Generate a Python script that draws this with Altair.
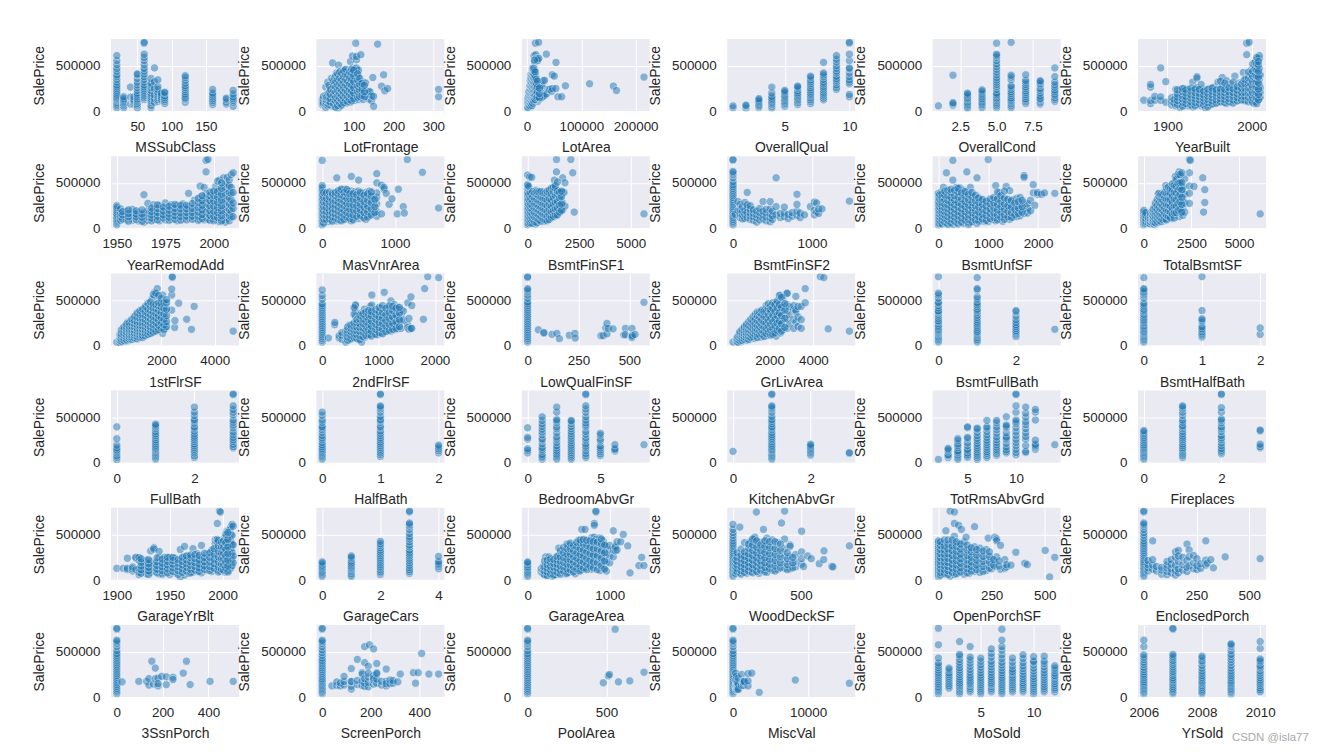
import altair as alt
import pandas as pd

# Every panel: x value -> SalePrice values (in thousands).
MSSubClass = {20:[40,60,80,100,120,130,140,150,160,175,190,210,230,250,270,290,320,350,380,400,440,470,510,555,610],
30:[40,60,80,95,110,125,140,160],40:[79,155,265],45:[76,95,110,120,135,160],
50:[38,70,90,110,125,140,160,180,200,230,260,290,320,360,400,410],
60:[130,150,170,190,210,230,250,270,290,320,350,380,410,440,470,510,555,590,625,745,755],
70:[40,65,100,120,140,160,180,200,230,260,290,310,360],75:[100,140,180,250,325,475],
80:[110,130,150,170,190,210,240,270,345],85:[125,140,160,180,200],90:[85,110,130,150,170,200,210],
120:[100,130,140,150,170,190,215,240,260,280,310,340,370,390],160:[75,100,120,140,160,180,200,240],
180:[80,100,130,145],190:[55,100,120,140,160,190,230]}
LotFrontage = {21:[75,95,130],24:[85,100,140,165],30:[40,80,110,140,175,265],35:[60,125,155,190,320],40:[90,130,170,215,260],
44:[60,110,150,240,360],47:[130,190,280,340,530],52:[50,100,160,205,255,300,365],57:[70,120,180,235,290,345,420],
62:[35,85,140,200,260,310,380,505],67:[60,115,165,220,275,330,400,440],72:[85,135,190,245,300,355,430],77:[110,160,215,270,325,385,450],
82:[90,145,200,250,310,370,425],87:[125,175,235,285,345,410],92:[100,155,215,265,330,395,545],97:[130,190,245,300,360,435,475,605],
102:[120,170,225,280,345,415,465],105:[745],107:[140,200,260,320,390,445,475,565,600],112:[130,185,250,305,380,450],118:[150,215,285,620],
124:[130,190,260,320],130:[160,225,310],138:[135,185,215],141:[215],145:[115,170],148:[370],150:[55,165],160:[735],170:[275],175:[400],178:[225],185:[250],313:[160,240],
32:[95,125,155],38:[75,110,145,200,285],42:[100,140,185,240],50:[80,130,180,230,280,330],55:[45,110,150,215,270,325,390],60:[65,120,170,230,285,345,410],65:[90,145,195,250,305,365,430],70:[70,125,175,230,290,345,415],75:[95,150,205,260,315,375,440],80:[120,175,230,285,345,400,460],85:[105,160,215,275,330,395],90:[130,185,240,300,365,430],95:[115,170,225,285,350,415,460],100:[140,200,260,325,390,450],110:[155,215,275,340,410],115:[165,230,295,360],121:[175,240,305],127:[160,215,285]}
LotArea = {1300:[40,80,125],3000:[60,90,130,170,200],5000:[50,85,115,150,185,230,270],7000:[70,100,135,170,205,250,295,385,400],
8500:[55,95,130,165,200,240,280,330,370,410],10000:[75,110,145,180,220,265,310,355,395,450,470],11500:[90,130,170,210,255,300,345,390,440,475],
13000:[105,150,195,240,285,330,375,420,465,610],14500:[120,165,215,260,305,350,400,460,540],15623:[745],16500:[140,190,240,285,335,385,620],17000:[575],18800:[170,225,270,315,570],
20000:[110,200,255,300,555],21535:[755],22000:[135,180,240,285,580],24000:[160,210,265,310],26000:[145,230,275],28000:[155,200,280],30000:[165,335],
32500:[175,340],35760:[625],36000:[190],39000:[240],42000:[240],45600:[220],46589:[400],47007:[250],50271:[385],53227:[250],53504:[535],
57200:[160],63887:[160],70761:[280],115149:[302],159000:[277],164660:[228],215245:[375],
2000:[45,100,150],4000:[70,105,140,175,215],6000:[60,95,125,160,195,240,285,340],7800:[85,120,155,190,230,270,320,365],9200:[65,105,145,185,225,265,305,345,390],10800:[90,130,165,205,245,285,330,375,420,460],12200:[115,155,190,230,275,320,365,410,455,470],13800:[130,175,220,265,310,355,400,445,560],15500:[130,180,230,275,320,370,430],17500:[150,205,255,300,350],19500:[160,215,265,330],23000:[150,195,255]}
OverallQual = {1:[39,61],2:[35,60,69],3:[40,55,65,80,95,110,125,140],4:[35,55,75,85,100,115,130,145,165,200,265],
5:[55,75,90,105,120,135,150,165,180,200,215,230],6:[75,95,115,130,145,160,175,190,205,225,250,265,277],
7:[85,110,130,150,170,185,200,220,240,260,285,305,325,345,370,385],8:[125,145,170,190,210,235,255,275,300,320,350,380,400,420,535],
9:[240,260,290,320,340,360,385,420,440,470,500,540,570,610],10:[160,185,300,320,345,380,420,465,475,555,625,745,755]}
OverallCond = {1:[61],2:[67,85,95,395],3:[35,45,60,75,90,105,125,140,150,170,185,200],4:[40,60,75,90,105,125,140,160,180,200,220,235],
5:[40,60,80,100,120,135,150,170,185,200,240,270,295,320,345,370,400,430,460,490,520,555,590,610,625,745],
6:[40,60,85,105,120,135,150,175,195,215,240,265,280,345,375,395,755],7:[85,105,125,140,165,185,205,225,250,270,295,320,340,400],
8:[80,100,125,135,145,170,200,230,250,290,305,325,335],9:[110,130,150,175,190,215,235,265,290,320,380,475]}
YearBuilt = {1872:[122],1880:[85,117,265,295],1885:[122,165],1892:[120,160,475],1898:[100,325],1905:[70,110,150],1910:[60,105,140,170,240],
1915:[45,90,125,160,205,235],1920:[70,110,145,180,220,250],1925:[60,95,130,165,200,240],1930:[50,85,120,155,190,225,320],1935:[75,110,145,180,215,260,380,365],
1940:[60,100,135,170,205,250,295],1945:[40,85,120,155,190,235],1950:[70,105,140,175,210,250],1955:[85,120,155,190,225,265],1960:[100,135,170,205,240,320],
1965:[110,145,180,215,250,275,370],1970:[85,120,155,190,225,270,335],1975:[100,135,170,205,240,300],1980:[110,145,180,215,255,385],1985:[120,155,190,225,260,310],
1990:[130,165,200,240,285,330,425],1994:[125,175,220,265,315,360,620,745],1997:[135,180,225,270,320,375,410,755],2000:[110,160,205,250,300,350,400,460],
2003:[85,140,190,240,290,340,395,450,510],2005:[130,175,225,275,330,385,440,490,555],2007:[115,165,215,265,320,375,430,480,570],2009:[140,190,240,295,350,400,465,580,610],2010:[155,210,260,395],
1908:[90,130],1912:[75,120,155,190,235],1918:[55,100,135,170,215,250],1922:[85,125,160,200,235],1928:[70,105,145,180,220,255],1933:[60,100,135,170,205,245],1938:[85,125,160,195,240],1943:[70,110,145,180,220],1948:[50,95,130,165,200,240],1953:[80,115,150,185,220,255],1958:[90,125,165,200,235],1963:[105,140,175,210,245,330],1968:[95,130,165,205,240,310],1973:[105,140,180,215,260],1978:[90,125,165,205,245,320],1983:[115,150,190,230,270],1988:[125,165,205,250,300],1992:[115,160,205,255,305,350],1996:[105,155,205,255,310,365,430],1999:[125,180,235,295,355,415],2001:[100,150,205,265,325,385,440,520],2004:[105,160,215,270,330,395,465,535],2006:[85,145,205,265,325,385,450,520,590],2008:[125,185,245,310,375,440,505,545]}
YearRemodAdd = {1950:[40,60,80,95,110,125,140,155,170,190,210,230,250],1952:[90,130,165,215],1955:[95,120,145,190],1958:[90,115,140,170,210],1961:[85,115,145,180],
1964:[70,110,140,175,370],1966:[90,125,160,200,275],1969:[100,130,165,205,260],1972:[85,120,155,195,250],1975:[95,130,170,215,280],1978:[105,140,180,225,260],
1981:[85,125,165,205,250],1984:[105,145,185,230,270],1987:[115,155,195,240,385],1990:[110,150,195,245,310],1993:[100,145,190,240,290,345,465],1995:[95,140,190,240,290,335,450],
1996:[120,175,225,280,330,380,745,620],1997:[100,155,210,265,320,755],1999:[115,170,225,280,335,390],2001:[105,160,215,270,330,390,460],2003:[75,130,185,240,300,360,430,530],
2005:[95,150,205,260,320,380,450,555],2006:[70,125,180,240,300,365,430,490],2007:[110,170,230,290,350,410,480,560],2008:[85,145,205,265,330,395,465,530],2009:[125,190,250,315,385,450,590],2010:[130,220,280,395,610],
1953:[105,150,185],1956:[80,130,165,205],1960:[100,130,160,195],1963:[80,125,160,205],1968:[85,115,150,185,225],1971:[95,135,175,220,260],1974:[115,150,190,235],1977:[90,125,160,200,245],1980:[100,140,180,220,265],1983:[90,130,170,215,255],1986:[95,135,175,215,255],1989:[100,135,175,220,275],1992:[90,135,180,230,285,330],1994:[110,155,205,255,305,360],1998:[90,145,195,250,305,360,400],2000:[85,135,190,245,300,360,410],2002:[120,175,230,285,345,405,520],2004:[85,140,195,250,310,375,440,500]}
MasVnrArea = {0:[40,60,80,100,120,140,160,180,200,220,240,260,280,300,320,340,360,380,400,420,445,470,745],
40:[90,130,170,215,260,310,375],80:[75,120,160,205,250,300,355],120:[90,135,180,225,275,325],160:[100,145,190,240,290,345],
200:[85,130,175,220,270,320,385,555],240:[105,150,195,245,295,350,400],280:[90,140,185,235,285,340,425],320:[110,160,210,260,310,365,430],
360:[100,150,200,250,300,360,405],400:[85,135,185,240,295,350,410,570],450:[120,170,225,280,340,400],500:[110,165,220,280,345,410,530],
550:[130,190,250,310,385],600:[100,155,215,275,350,395],650:[140,200,270,340,410],700:[165,225,300,350],750:[135,185,270,340,390,600,500],
816:[160,475],850:[430,450],880:[385],920:[265],960:[325],1031:[160],1047:[430],1115:[240],1129:[170],1170:[755],1378:[615],1600:[225],
20:[60,105,150,195,240,290,340,395],60:[100,140,185,230,280,330,390],100:[105,150,195,245,295,345,400],140:[80,125,170,215,260,310,365,385],180:[115,160,205,255,305,360,395],220:[100,145,190,235,285,335,375,415],260:[85,125,170,215,265,320,370,430],300:[100,150,200,250,300,350,395],340:[125,175,225,275,330,385,425],380:[110,160,215,270,325,380],425:[95,150,205,260,320,380],475:[135,195,250,310,370],525:[145,205,265,330,395],575:[115,175,235,295,365],625:[125,185,245,310,380],675:[150,215,285,355,400],725:[175,240,320]}
BsmtFinSF1 = {0:[40,60,80,100,120,140,160,180,200,220,240,260,280,300,320,340,360,380,400,440,470,480,585],
100:[75,110,150,190,240,290,340,400,565],200:[90,130,175,220,270,320,380,560],300:[70,115,160,205,255,305,365],400:[50,100,145,190,240,295,350,420],
500:[85,130,180,230,285,340,395],600:[105,155,205,260,315,375],700:[90,140,195,250,305,360,400],800:[80,125,180,235,295,350,405],
900:[105,160,215,275,335,400],1000:[115,170,230,290,350,410],1100:[110,165,225,290,355,425],1200:[120,175,240,305,375,445],1300:[130,190,255,320,390,460,530],
1400:[145,210,280,350,420,620,755],1500:[170,240,310,380],1600:[190,265,345,400],1700:[205,280,395,555],1767:[395],1810:[500,245],2096:[755],2188:[610],2260:[180],5644:[160],
50:[55,95,135,175,220,265,320,375,460],150:[60,100,140,180,225,270,325,385],250:[55,105,150,195,245,295,350,405],350:[75,125,170,220,270,325,385],450:[65,115,165,215,265,320,375,405],550:[95,145,195,245,300,355,400],650:[80,130,180,235,290,345,405],750:[105,160,215,270,330,390],850:[95,150,205,265,325,385],950:[85,135,190,250,310,375,405],1050:[100,150,205,265,325,385,420],1150:[125,185,245,310,375,440],1250:[135,195,265,335,405,450],1350:[150,215,285,360,440,470],1450:[150,225,295,375,410,510],1550:[180,255,335,395],1650:[200,270,350,410]}
BsmtFinSF2 = {0:[40,60,80,100,120,140,160,180,200,220,240,260,280,300,320,340,360,380,400,420,440,460,480,510,555,590,610,625,745,755],
28:[155],64:[195,295],90:[120,160,205,265],120:[105,145,190,240],150:[110,160,200,285],180:[120,175,225,260,395],220:[100,135,170,210,250],260:[90,130,165,205],
300:[70,115,150,190],340:[95,135,175,220],380:[105,150,190,295],420:[85,125,170,210],470:[75,115,160,215,295],500:[100,140,190],546:[555,150,240],600:[120,165],
650:[130,170,235],700:[110,155],750:[135,175],810:[145,190,265,375],850:[120,170],906:[150],980:[240],1030:[150,200,290],1060:[180,280],1085:[165,215],1127:[215],1474:[300]}
BsmtUnfSF = {0:[40,60,80,100,120,140,160,180,200,220,240,260,280,300,330,360,385],
50:[70,105,135,170,205,240,280,320,395],100:[85,120,155,190,225,265,310,370,450],160:[60,100,135,175,215,260,305,350,610],220:[80,120,160,200,245,290,335,400],
290:[45,95,135,175,220,265,315,370,745,530],360:[65,110,150,195,240,290,340,400,450],430:[85,125,170,215,265,320,385,445],500:[55,100,145,195,245,300,360,420],
570:[80,125,175,225,280,340,395,620],640:[65,110,160,210,265,325,385,450],710:[90,140,190,245,300,350],775:[55,105,155,210,270,330,555],850:[95,145,200,255,310],
920:[80,135,185,240,290],1000:[75,125,175,230,280,755],1080:[100,150,205,260,315],1150:[85,140,195,250,310,470],1220:[110,165,225,285,345,390],1290:[80,130,190,250,320],
1360:[115,175,235,300,460],1430:[100,160,220,290,415],1500:[125,180,245,315],1570:[130,190,250,330],1640:[140,200,265,340],1720:[165,215,280,580,560],1790:[170,220,270],
1850:[310,195],1904:[480,390],1935:[255],1990:[375,395],2070:[375],2130:[390],2336:[385],
25:[55,90,125,160,195,235,275,325,370],75:[50,95,130,165,200,240,285,335,380],130:[70,110,145,185,225,265,315,365,410],190:[45,90,130,170,215,260,310,360,420],255:[60,105,145,190,235,285,340,395,430],325:[80,125,165,210,260,310,360,420],395:[50,95,140,185,235,285,345,400,440],465:[70,115,165,215,265,325,390],535:[90,135,185,240,295,355,405],605:[45,100,150,200,255,315,375],675:[75,125,175,230,285,345,395],745:[95,145,195,250,305,365],810:[80,130,180,235,285,335],885:[105,155,210,265,320],960:[90,145,195,245,300],1040:[110,165,215,270,325],1115:[120,170,225,280,340],1185:[95,150,205,265,325,400],1255:[125,180,240,300,360],1325:[100,150,210,270,335,410],1395:[130,190,250,320],1465:[120,175,235,305],1535:[150,210,280],1605:[165,225,295],1680:[180,240,310]}
TotalBsmtSF = {0:[40,60,80,100,120,140,160,180,200],105:[55,80,110,145,175],250:[60,90,115],350:[50,75,105,135,165],450:[60,90,120,150,195],
550:[45,80,115,150,185,235],650:[55,95,130,170,215,265],750:[70,110,150,190,240,300,380],850:[85,125,170,215,265,330],950:[100,145,190,240,295,350],
1050:[85,130,180,230,285,340,395],1150:[105,155,205,260,320,380,470],1250:[115,170,225,285,345,410],1350:[125,180,240,305,370,435],1450:[110,170,230,300,370,440],
1550:[145,205,270,345,415,480],1650:[160,225,295,375,445,515,570],1750:[185,255,330,400,470,535],1850:[130,210,290,370,450,510,620],1950:[170,250,330,400,490,580],2050:[145,225,310,385,460,445],
2150:[180,280,375,545],2396:[275,465,385,610,755],2444:[745],2633:[460],3094:[555],3138:[180],3200:[425,285],6110:[160],
500:[75,105,135,175,215],600:[65,105,140,180,230,280],700:[80,120,160,205,255,320],800:[95,135,180,230,285,350,385],900:[75,115,160,210,265,320,375],1000:[100,150,200,250,310,370],1100:[110,165,220,275,335,395],1200:[95,145,200,260,320,385,440],1300:[135,195,255,320,390,455],1400:[120,180,245,315,385,430],1500:[155,220,285,355,430,490],1600:[115,175,245,320,395,470],1700:[175,245,315,390,460,540],1800:[200,270,345,420,495,590],1900:[215,295,370,440,500,590],2000:[180,265,340,425,505,610]}
FirstFlrSF = {334:[40],450:[35,60,90,125],550:[45,70,95,120,155,190],650:[50,80,105,130,160,195,215],750:[55,85,110,135,165,190,225,260],
850:[65,90,115,140,170,200,235,270],950:[75,100,125,150,180,210,245,285],1050:[80,105,130,160,190,220,255,300,340],1150:[90,115,140,170,200,235,270,310,350],
1250:[100,125,150,180,215,250,290,330,365],1350:[105,135,165,195,230,265,310,350,390],1450:[120,150,180,215,250,290,330,375,425],1550:[130,160,195,230,270,315,360,410,450],
1650:[145,180,215,255,300,345,395,440,510],1750:[165,200,240,285,330,385,430,540,585],1850:[170,215,265,310,365,415,465,625],1950:[185,235,285,340,395,450,480],
2050:[135,205,260,320,395,445,555],2150:[190,235,300,380,465],2390:[390,555,620],2411:[745,755],2500:[200],2510:[275],2650:[465],2950:[290],3130:[180],3230:[430],4692:[160],
500:[50,75,105,130,170],600:[60,85,115,140,175,205],700:[65,95,120,150,180,210,240],800:[75,100,125,155,180,215,250],900:[70,95,120,145,175,210,250,290],1000:[85,115,140,170,205,240,275,320],1100:[75,100,130,160,190,225,260,310,360],1200:[95,120,150,185,220,255,300,340,385],1300:[90,115,145,180,215,255,300,345,400],1400:[110,140,170,205,245,285,330,375,430],1500:[125,155,190,225,265,310,355,400,465],1600:[135,170,205,245,290,335,385,430,480],1700:[150,190,230,270,315,365,415,455,560],1800:[160,210,255,305,355,405,450,575],1900:[175,225,280,330,385,435,470,550],2000:[195,250,305,365,420,465,520],2100:[175,230,290,350,410,470],2200:[210,265,330,400,470,505]}
SecondFlrSF = {0:[40,60,80,100,120,140,160,180,200,220,240,260,280,300,320,340,360,380,400,420,440,460,510,550,610],110:[85],220:[230],224:[255],
300:[85,110],350:[70,115,145],420:[40,95,125,160],480:[65,110,145,180,225],540:[85,125,160,200,230],590:[100,140,180,230,320,380,450,440],640:[70,115,155,200,250,300],
700:[40,125,170,215,265,320,360],750:[90,140,185,235,285,340,400],800:[110,160,210,260,310],850:[120,170,225,280,340,430],880:[385,555,445],920:[130,185,240,300,350],
980:[120,175,230,290,330],1040:[140,195,250,310,410],1100:[150,205,265,325,405,585],1160:[165,225,290,350,425],1220:[160,200,260,325,395,490],1280:[175,235,300,380,450],
1340:[185,250,320,420,400],1400:[190,270,340,395],1440:[280,380],1518:[470,230,200],1540:[180,300],1575:[535,190],1589:[190,440],1796:[290],1818:[625],1872:[755],2065:[745],
450:[60,95,135,170,205],510:[75,115,155,190,225],565:[90,130,170,210,250,345,415],615:[80,120,165,205,250,285],670:[65,110,155,200,240,290,335],725:[100,150,195,245,295,350],775:[115,165,215,265,320,370],825:[125,175,230,285,335,385],875:[105,160,215,270,330,375],950:[125,180,235,290,345,395],1010:[145,200,255,315,370,420],1070:[130,185,245,305,365,440],1130:[155,215,275,340,410],1190:[170,235,300,365,435],1250:[180,245,315,385,430],1310:[190,260,335,410],1370:[210,285,360,420]}
LowQualFinSF = {0:[40,60,80,100,120,140,160,180,200,220,240,260,280,300,320,340,360,380,400,420,440,460,480,520,555,590,610,625,745,755],
53:[175],80:[145,140],120:[125],144:[135],156:[78],205:[115],232:[135],234:[85],360:[110],371:[110],384:[195],390:[245,130],397:[190],420:[185],
473:[120],481:[190,120],513:[190,105,90],515:[110],528:[125],572:[475]}
GrLivArea = {334:[40],500:[50,80],600:[40,65,95,125],700:[45,75,105,135],800:[55,85,115,145,170],900:[65,95,125,155,190],1000:[60,100,130,165,205],
1100:[75,110,140,175,215],1200:[85,120,155,190,235],1300:[80,125,165,205,250],1400:[95,140,180,220,270],1500:[105,150,195,240,290],1600:[95,145,190,240,300],1700:[110,160,210,265,330,380],
1800:[125,175,230,290,355,395],1900:[115,170,230,295,365,385],2000:[130,190,250,320,395],2100:[145,210,280,350,430,390],2200:[125,200,275,350,440],2300:[105,180,260,340,425,465],
2400:[155,235,320,410,475],2500:[140,215,300,390,550],2600:[175,265,355,440,520],2800:[190,295,380,450,570,575],2900:[240,340,425],3100:[190,290,395,440],3200:[260,370,390,540],3300:[210,315,430],3447:[190,285,430],
3627:[625,470],4316:[755],4476:[745],4676:[185],5642:[160],
550:[40,70,100],650:[55,85,115,140,155],750:[60,90,120,150,180],850:[70,100,130,160,195,210],950:[80,110,140,175,215,235],1050:[70,105,140,175,220,265],1150:[90,125,165,205,250,290],1250:[100,140,180,225,270,320],1350:[115,155,195,240,290,345],1450:[90,130,175,220,270,325,370],1550:[120,165,210,260,315,365],1650:[130,175,225,280,340,390],1750:[100,150,205,260,320,375],1850:[135,190,250,310,375,440],1950:[150,210,275,340,405,460],2050:[115,170,235,300,370,440,395],2150:[125,190,260,335,410,470],2250:[140,215,290,375,450],2350:[170,245,330,415,490],2450:[190,270,360,450,550],2550:[160,240,330,420,530],2700:[200,300,390,460]}
BsmtFullBath = {0:[40,55,70,85,100,115,130,140,150,160,170,180,195,210,225,245,265,275,300,325,345,365,375,385,415,440,465,475,520,555,575,755],
1:[40,55,70,90,110,125,140,150,160,180,200,220,240,260,285,310,335,365,385,400,430,450,470,510,535,610,625,745],
2:[100,120,140,155,170,190,210,230,255,285,325,370,385],3:[180]}
BsmtHalfBath = {0:[40,55,70,85,100,115,130,140,150,160,175,190,205,220,240,255,270,285,305,325,345,370,385,400,425,445,465,520,555,575,590,610,625,745],
1:[95,110,125,140,155,175,190,210,260,280,295,385,755],2:[125,195]}
FullBath = {0:[35,60,80,110,130,145,165,195,265,395],1:[40,55,70,85,100,115,130,145,155,165,180,195,215,235,255,280,300,320,345,375,395,410,425],
2:[60,80,110,130,150,170,190,210,235,255,275,295,320,350,380,395,435,460,475,520,555,610],3:[165,180,205,235,255,280,310,340,385,415,445,470,525,555,585,625,745,755]}
HalfBath = {0:[40,55,70,85,100,115,130,145,160,180,200,225,255,275,300,335,365,385,400,445,470,520,555],
1:[70,90,110,130,150,170,190,210,230,255,275,300,325,350,385,400,445,465,475,510,555,590,610,625,745,755],2:[110,135,155,175,195]}
BedroomAbvGr = {0:[110,135,155,260,280,385],1:[40,60,75,95,130,150,170,210,250,265,310,340,370,400,430,465,505],
2:[40,55,70,85,100,120,140,165,190,225,260,285,330,375,395,440,460,475,555,610],3:[40,55,75,95,115,135,155,175,195,220,245,270,295,320,345,375,400,430,455,465],
4:[60,80,105,135,165,185,210,250,275,315,345,395,415,440,470,505,555,590,625,745,755],5:[80,100,125,145,165,185,240,260,305,325],6:[130,145,155,200],8:[200]}
KitchenAbvGr = {0:[127],1:[40,55,70,85,100,115,130,140,150,165,180,195,215,235,255,270,290,310,335,365,385,400,430,455,475,510,555,590,610,625,745,755],
2:[85,100,115,130,145,160,175,190,205],3:[106,113]}
TotRmsAbvGrd = {2:[39],3:[60,80,90,130,145,160],4:[40,55,75,90,110,120,135,170,190,210,245,265],5:[60,75,90,110,135,150,190,220,265,280,385,395],
6:[40,60,80,100,120,145,165,190,215,245,270,300,335,370,380],7:[60,80,105,125,150,175,200,225,250,280,310,345,380,395,465],8:[85,105,130,150,175,200,225,255,285,325,365,395,440,465],
9:[110,125,145,175,215,255,270,285,330,385,400,415,505],10:[90,115,150,190,225,260,300,340,385,430,450,470,555,625,745,755],11:[115,125,190,260,290,330,375,420,450,500,545,610],
12:[150,175,190,205,250,470,555,585],14:[200]}
Fireplaces = {0:[40,55,70,85,100,115,130,145,155,170,185,200,220,240,260,280,300,320,340,355],
1:[60,80,100,120,140,155,170,190,210,235,255,275,295,320,345,375,395,410,445,470,520,555,590,610,625],
2:[100,120,140,160,190,220,255,275,300,345,375,395,440,465,480,555,605,745,755],3:[165,180,205,350,360]}
GarageYrBlt = {1900:[130],1906:[130],1910:[115,130,240],1915:[100,125,145],1918:[115,240,250],1921:[60,85,125,215,250],1925:[100,135,175],1928:[70,110,150,195,220],1932:[85,125,165,205,320],
1935:[100,140,180,355,340],1940:[70,110,150,190,250,315],1945:[85,125,165,205,250],1950:[60,105,145,185,225,250],1955:[80,120,160,200,240],1960:[35,95,135,175,215,335],1964:[55,110,150,190,230,260,370],
1968:[75,120,160,200,245,265],1972:[90,130,170,210,250,345],1976:[100,140,180,225,290],1980:[80,125,165,205,250,380],1985:[110,150,195,240,285],1990:[95,140,185,235,285,335,320],
1993:[120,165,215,265,320,440,400],1995:[115,170,225,280,340,410,620,445],1997:[130,185,240,300,755],1998:[100,160,220,280,340,745],2000:[145,205,265,330,410],2002:[90,155,220,290,365,460],
2004:[125,190,255,325,395,480,535],2006:[105,170,240,310,385,465,550],2007:[150,215,285,360,440,550],2008:[135,205,275,345,420,495,585],2009:[160,230,305,390,490,610],2010:[190,265,385,590],
1923:[75,115,155,195,235],1930:[60,100,140,180,225],1938:[80,120,160,200,245],1943:[65,105,145,185,230],1948:[80,125,165,205,250],1953:[95,135,175,215,250],1958:[60,105,145,185,225],1962:[85,125,165,205,250],1966:[100,140,180,220,265],1970:[80,120,160,200,245,275],1974:[110,150,190,235,280],1978:[95,135,175,220,270],1983:[115,155,200,245,295],1988:[105,150,200,250,300],1992:[130,180,230,285,345],1996:[90,145,200,255,315,375,435],1999:[120,175,235,295,360,415],2001:[110,170,230,295,360,430],2003:[135,200,265,335,410,500],2005:[90,155,220,290,365,445,520]}
GarageCars = {0:[40,55,70,85,100,120,135,150,165,185,200],1:[40,55,75,95,110,125,135,145,160,175,190,210,235,250,265],
2:[60,80,95,115,135,150,170,190,210,230,250,270,290,310,330,355,380,400,425],3:[75,95,115,140,165,190,215,240,265,285,305,330,365,385,420,450,475,510,555,590,610,625,745,755],4:[125,150,170,185,205,260]}
GarageArea = {0:[40,55,70,85,100,120,135,150,170,190,200],165:[90,125],190:[70,110,150],220:[55,95,135,175,255],260:[65,105,145,190,255],300:[45,85,125,165,205],340:[60,105,150,195,245],
380:[75,120,165,215,270,350],420:[90,135,185,235,285],460:[70,120,170,220,270,330],500:[85,140,195,250,310,375],540:[100,155,210,270,330,390],580:[70,125,180,240,300,360],
620:[105,165,225,285,345,405,435],660:[115,180,245,310,375,425,555],700:[130,195,260,330,400,440,555],740:[145,210,280,345,405],780:[120,190,260,335,410,465],
813:[165,240,315,390,470,620,600],832:[745,755,290,410,445],880:[105,180,255,330,400,460],920:[135,215,295,375,430],960:[100,200,285,370],1000:[190,265,335,380],
1044:[255,330,540],1069:[320,375,360],1090:[330,420],1134:[420],1166:[500],1220:[375],1248:[80],1356:[160],1390:[250],1418:[160],
205:[60,100,145,210],240:[50,90,130,170,220],280:[70,110,150,195,235],320:[55,100,140,180,225],360:[85,130,175,220,260],400:[65,110,155,205,255,325],440:[100,145,195,245,300,360],480:[75,125,175,230,285,345,395],520:[115,170,225,285,345,405],560:[90,145,200,260,320,380],600:[125,180,240,300,365,415],640:[100,155,215,280,345,410,440],680:[135,200,265,330,395,445],720:[115,175,240,310,380,435],760:[155,220,290,360,430],800:[135,200,275,345,420],850:[115,190,265,340,415],900:[160,240,320,395,450],940:[120,210,300,385]}
WoodDeckSF = {0:[40,55,70,85,100,115,130,145,160,175,190,205,225,245,265,285,305,325,345,365,385,405,430,460,490,520,555,610],
20:[70,105,140,180,220],50:[580,80,115,155,195,240],70:[95,135,175,225,265],100:[75,115,155,200,250,300],130:[90,135,180,230,280,340,410,425],160:[105,150,200,250,310,370,445,470],
172:[745],190:[75,125,175,230,290,355,415],224:[555,115,165,220,280,345,415],250:[85,140,195,255,320,385,460],290:[110,170,230,295,360,440],330:[120,185,250,320,410],357:[625],
380:[755,130,195,265,345,450],420:[125,190,260,385,370],460:[145,205,280],505:[310,535,175,235],519:[150],550:[265],576:[235],635:[180],668:[225],670:[320],728:[150],736:[145],857:[375],
30:[90,125,165,205,250,300],60:[65,105,145,185,230,275,340],85:[85,125,170,215,260,310,410],115:[100,145,190,240,290,350,395],145:[80,125,170,220,270,325,385,450],175:[95,145,195,245,300,360,430],205:[110,160,210,265,325,385],235:[90,140,190,245,305,370,430],270:[125,175,230,290,355,420],310:[100,155,215,280,345,420],350:[135,190,255,325,395],400:[115,170,235,300],440:[135,190,250]}
OpenPorchSF = {0:[40,55,70,85,100,115,130,145,160,175,190,205,225,245,265,285,305,325,345,365,385,410,430],
20:[65,100,140,180,220,265,310,360,400],35:[540,85,125,165,205,250,300,345,380],55:[45,100,145,190,235,285,335,385,755],75:[745,60,115,160,205,255,305,365,410,480,620],
95:[85,135,180,225,275,330,400,600],108:[555],120:[65,110,155,205,255,310,370,420],130:[470],145:[75,125,175,225,280,345],170:[95,145,195,250,310,365,585],
195:[85,135,185,240,300,350],225:[105,160,215,275,335],234:[460],250:[125,180,235],265:[470,200,150],274:[450,430,255],292:[120,380],312:[130,225],320:[145,170],341:[165],364:[305],406:[185],418:[170],502:[325],523:[35],547:[250],
10:[55,85,125,165,205,245,290,335,380,420],28:[75,115,155,195,240,285,330,375,440],45:[60,105,150,195,240,290,340,395,440],65:[85,130,175,220,270,325,375,440],85:[70,120,165,215,265,315,370,420],105:[90,135,185,235,285,340,395],135:[80,125,170,220,270,330,385],155:[100,150,200,250,310,355],180:[115,165,220,275,335],210:[95,150,205,260,320],240:[130,195,260,310],260:[165,225],285:[155,210]}
EnclosedPorch = {0:[40,55,70,85,100,115,130,145,160,175,190,205,225,245,265,285,305,325,345,365,385,405,430,460,490,520,555,590,610,625,745,755],
20:[100,135,170,215],42:[430,120,165,225],60:[100,150],85:[65,110,140],110:[60,95,135,165,205],130:[80,125,175,225],150:[55,105,165,250,310],164:[325,80,125,205,265],185:[110,170,250],
205:[395,95,140,215],215:[330,155,255],236:[125,190,270],252:[115,160,235],270:[130,180],294:[430,165,220],301:[185],318:[225],330:[135],386:[255],552:[235]}
Ssn3Porch = {0:[40,60,80,100,120,140,160,180,200,220,240,260,280,300,320,340,360,380,400,420,440,460,480,510,555,590,610,625,745,755],
23:[170],96:[175],130:[175],140:[135,205],153:[395],160:[145],168:[205,320],180:[125,210,150],196:[230],216:[140,225],245:[220,195],290:[265],304:[395],320:[140],407:[175],508:[175]}
ScreenPorch = {0:[40,55,70,85,100,115,130,145,160,175,190,205,225,245,265,285,305,325,345,365,385,405,430,460,490,520,555,590,610,625,745,755],
40:[125],60:[130,170],75:[125,160],90:[135,175,230],120:[90,120,170,315,175],145:[415,140,185],165:[130,180,270,255],175:[120,155,205,380,555],190:[115,165,225,340,265],195:[575],
212:[145,190,240,530,210],225:[155,200,270,370,260],245:[135,175],264:[125,175,310,150],280:[150,190],292:[155,185],312:[170],322:[255],376:[270],385:[155],396:[270],410:[480],440:[255],480:[255]}
PoolArea = {0:[40,60,80,100,120,140,160,180,200,220,240,260,280,300,320,340,360,380,400,420,440,460,480,510,555,590,610,625,745,755],
480:[160],512:[235],519:[250],555:[745],576:[170],648:[180],738:[275]}
MiscVal = {0:[40,60,80,100,120,140,160,180,200,220,240,260,280,300,320,340,360,380,400,420,440,460,480,510,555,590,610,625,745,755],
350:[120,190,265],450:[90,110,155,230],500:[85,130,175],600:[95,120,160],700:[100,145,210,85],1150:[130,250],1300:[175],1400:[130,160],1500:[170,175],2000:[125,180,260],2500:[265],3500:[55],8300:[190],15500:[155]}
MoSold = {1:[40,60,75,90,105,120,140,155,175,195,215,235,255,275,300,325,350,375,430,575,755],2:[100,115,130,150,170,190,210,230,250,270,300,320],
3:[40,60,80,100,115,130,145,160,180,200,225,250,275,300,325,355,385,415,450,470,610],4:[60,80,100,120,140,150,165,180,200,220,245,275,305,340,375,410,440,555],
5:[40,60,80,100,120,140,160,180,200,220,245,270,300,330,360,395,430],6:[60,80,100,120,140,150,165,185,205,225,250,275,305,335,365,395,440,480,530],
7:[40,60,80,100,120,140,160,180,200,220,245,270,295,325,355,385,425,465,515,555,625,745],8:[60,80,100,120,140,160,180,200,220,245,270,285,310,345,385,430],
9:[60,80,100,120,140,160,185,205,230,255,285,315,345,380,425,465],10:[40,60,80,100,120,140,160,185,205,230,260,290,320,355,385,395,445],
11:[60,80,100,120,145,170,195,220,245,270,300,335,370,395,450],12:[60,85,105,130,150,175,200,225,240,265,295,320,345]}
YrSold = {2006:[40,55,70,85,100,115,130,145,160,175,195,215,235,255,280,305,330,360,385,415,440,465,555,625],2007:[40,55,70,85,100,120,140,160,180,195,215,240,265,285,310,335,360,385,405,430,450,470,745,755],
2008:[40,55,70,90,110,130,150,165,180,200,220,240,265,290,320,350,385,400,430,450],2009:[35,55,70,85,100,120,135,150,165,180,200,220,240,265,290,320,350,385,415,445,470,510,555,575,585],
2010:[60,70,85,105,130,150,170,190,215,240,265,290,320,335,350,385,400,420,535,610]}

panels = [
("MSSubClass",MSSubClass,[50,100,150],"d"),("LotFrontage",LotFrontage,[100,200,300],"d"),("LotArea",LotArea,[0,100000,200000],"d"),
("OverallQual",OverallQual,[5,10],"d"),("OverallCond",OverallCond,[2.5,5,7.5],".1f"),("YearBuilt",YearBuilt,[1900,2000],"d"),
("YearRemodAdd",YearRemodAdd,[1950,1975,2000],"d"),("MasVnrArea",MasVnrArea,[0,1000],"d"),("BsmtFinSF1",BsmtFinSF1,[0,2500,5000],"d"),
("BsmtFinSF2",BsmtFinSF2,[0,1000],"d"),("BsmtUnfSF",BsmtUnfSF,[0,1000,2000],"d"),("TotalBsmtSF",TotalBsmtSF,[0,2500,5000],"d"),
("1stFlrSF",FirstFlrSF,[2000,4000],"d"),("2ndFlrSF",SecondFlrSF,[0,1000,2000],"d"),("LowQualFinSF",LowQualFinSF,[0,250,500],"d"),
("GrLivArea",GrLivArea,[2000,4000],"d"),("BsmtFullBath",BsmtFullBath,[0,2],"d"),("BsmtHalfBath",BsmtHalfBath,[0,1,2],"d"),
("FullBath",FullBath,[0,2],"d"),("HalfBath",HalfBath,[0,1,2],"d"),("BedroomAbvGr",BedroomAbvGr,[0,5],"d"),
("KitchenAbvGr",KitchenAbvGr,[0,2],"d"),("TotRmsAbvGrd",TotRmsAbvGrd,[5,10],"d"),("Fireplaces",Fireplaces,[0,2],"d"),
("GarageYrBlt",GarageYrBlt,[1900,1950,2000],"d"),("GarageCars",GarageCars,[0,2,4],"d"),("GarageArea",GarageArea,[0,1000],"d"),
("WoodDeckSF",WoodDeckSF,[0,500],"d"),("OpenPorchSF",OpenPorchSF,[0,250,500],"d"),("EnclosedPorch",EnclosedPorch,[0,250,500],"d"),
("3SsnPorch",Ssn3Porch,[0,200,400],"d"),("ScreenPorch",ScreenPorch,[0,200,400],"d"),("PoolArea",PoolArea,[0,500],"d"),
("MiscVal",MiscVal,[0,10000],"d"),("MoSold",MoSold,[5,10],"d"),("YrSold",YrSold,[2006,2008,2010],"d"),
]

FONT = "Liberation Sans"
TEXT = "#262626"
Y_DOMAIN = [-1105, 791005]

charts = []
for i, (name, groups, ticks, fmt) in enumerate(panels):
    rows = [{"x": x, "SalePrice": y * 1000} for x, ys in groups.items() for y in ys]
    lo, hi = min(groups), max(groups)
    pad = (hi - lo) * 0.05
    c = alt.Chart(pd.DataFrame(rows)).mark_circle(
        clip=True, size=68, color="#1f77b4", opacity=0.5, stroke="white", strokeWidth=0.75
    ).encode(
        x=alt.X("x:Q", title=name, scale=alt.Scale(domain=[lo - pad, hi + pad], nice=False, zero=False),
                axis=alt.Axis(values=ticks, format=fmt, labelPadding=8, titlePadding=8)),
        y=alt.Y("SalePrice:Q", title="SalePrice", scale=alt.Scale(domain=Y_DOMAIN, nice=False, zero=False),
                axis=alt.Axis(values=[0, 500000], format="d", labelPadding=11, titlePadding=9)),
    ).properties(width=128, height=72.5)
    if i == len(panels) - 1:
        mark = alt.Chart(pd.DataFrame({"t": ["CSDN @isla77"]})).mark_text(
            align="left", baseline="middle", font=FONT, fontSize=11.4, color="#a8a8a8"
        ).encode(x=alt.value(94), y=alt.value(113), text="t:N")
        c = alt.layer(c, mark)
    charts.append(c)

chart = alt.concat(*charts, columns=6, spacing={"row": 44.2, "column": 77.4}, bounds="flush").properties(
    padding={"left": 24, "top": 31, "right": 0, "bottom": 0},
    background="white",
).configure_view(fill="#EAEAF2", stroke=None
).configure_axis(
    grid=True, gridColor="white", gridWidth=1, domain=False, ticks=False,
    labelFont=FONT, titleFont=FONT, labelFontSize=13.4, titleFontSize=13.9,
    labelColor=TEXT, titleColor=TEXT, titleFontWeight="normal", labelOverlap=False, labelFlush=False,
)

chart.save("out.html", embed_options={"renderer": "svg", "actions": False})
